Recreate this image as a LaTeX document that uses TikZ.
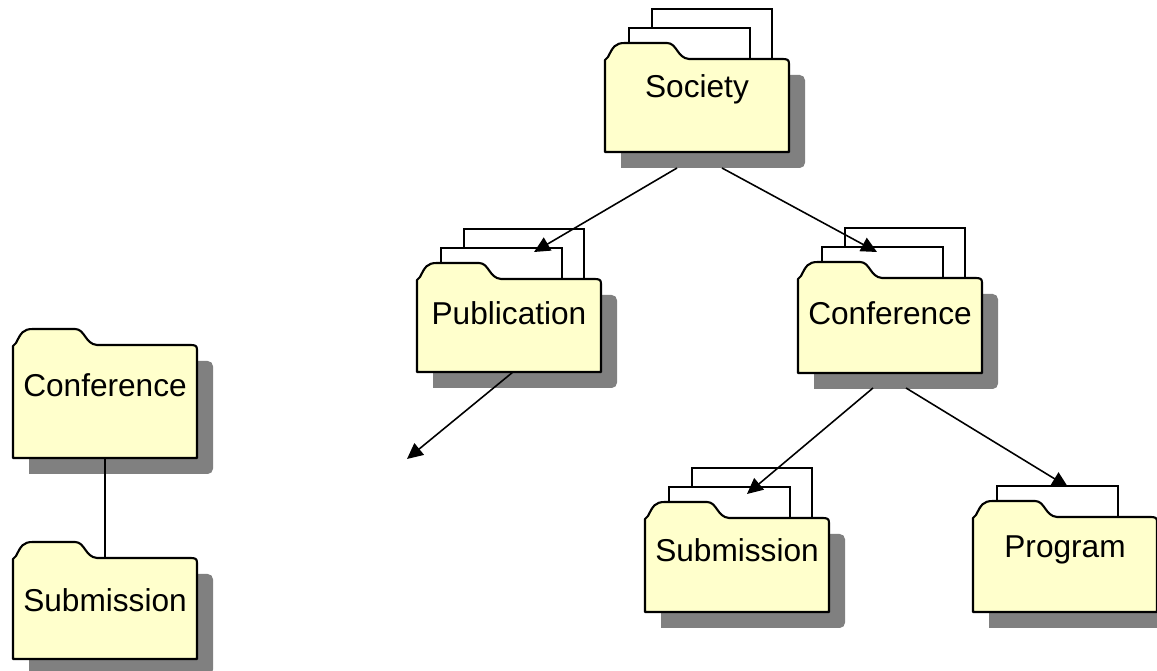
\documentclass[tikz,border=0pt]{standalone}
\usepackage{fontspec}
\setmainfont{Liberation Sans}
\usetikzlibrary{arrows.meta}
\definecolor{folderyellow}{RGB}{255,255,204}
\definecolor{foldergray}{RGB}{128,128,128}
\tikzset{
  foldershadow/.style={fill=foldergray},
  folderpage/.style={draw=black, fill=white, line width=0.8pt},
  folderbody/.style={draw=black, fill=folderyellow, line width=1.2pt, line join=round},
  folderlabel/.style={inner sep=0pt, font=\fontsize{18}{20}\selectfont},
  conn/.style={draw=black, line width=0.9pt, -{Triangle[length=9pt,width=8.5pt]}},
  plainconn/.style={draw=black, line width=0.9pt}
}
% #1 name, #2 left, #3 tab top, #4 height, #5 pages, #6 text, #7 text drop
\def\folder#1#2#3#4#5#6#7{%
  \fill[foldershadow] (#2+16,#3+#4+16) -- (#2+16,#3+32) {[rounded corners=3pt] -- (#2+200,#3+32) -- (#2+200,#3+#4+16)} -- cycle;
  \ifnum#5>1 \draw[folderpage] (#2+47,#3+16) -- (#2+47,#3-34) -- (#2+167,#3-34) -- (#2+167,#3+16); \fi
  \ifnum#5>0 \draw[folderpage] (#2+24,#3+16) -- (#2+24,#3-15) -- (#2+145,#3-15) -- (#2+145,#3+16); \fi
  \draw[folderbody] (#2,#3+#4) -- (#2,#3+17) -- (#2+3,#3+14) .. controls (#2+8,#3+4) and (#2+10,#3) .. (#2+20,#3)
    -- (#2+62,#3) .. controls (#2+72,#3) and (#2+72,#3+15) .. (#2+84,#3+16)
    -- (#2+178,#3+16) .. controls (#2+184,#3+16) and (#2+184,#3+18) .. (#2+184,#3+22)
    -- (#2+184,#3+#4) -- cycle;
  \node[folderlabel] (#1) at (#2+92,#3+#7) {#6};
}

\begin{document}
\begin{tikzpicture}[x=0.02cm, y=-0.02cm]
  %%%%% START %%%%%
  \useasboundingbox (0,0) rectangle (1157,671);

  % left pair
  \folder{confL}{13}{329}{129}{0}{Conference}{56}
  \folder{subL}{13}{542}{117}{0}{Submission}{58}
  \draw[plainconn] ([shift={(0,73)}]confL.center) -- ([shift={(0,-41)}]subL.center);

  % tree
  \folder{society}{605}{43}{109}{2}{Society}{46}
  \folder{publication}{417}{263}{109}{2}{Publication}{50}
  \folder{conference}{798}{262}{111}{2}{Conference}{51}
  \folder{submission}{645}{502}{110}{2}{Submission}{48}
  \folder{program}{973}{501}{111}{1}{Program}{49}

  \coordinate (pubout) at (407,459);

  \draw[conn] ([shift={(-20,79)}]society.center) -- ([shift={(25,-61)}]publication.center);
  \draw[conn] ([shift={(25,79)}]society.center) -- ([shift={(-13,-61)}]conference.center);
  \draw[conn] ([shift={(4,59)}]publication.center) -- (pubout);
  \draw[conn] ([shift={(-17,75)}]conference.center) -- ([shift={(10,-56)}]submission.center);
  \draw[conn] ([shift={(16,75)}]conference.center) -- ([shift={(3,-63)}]program.center);
  %%%%% END %%%%%
\end{tikzpicture}
\end{document}
